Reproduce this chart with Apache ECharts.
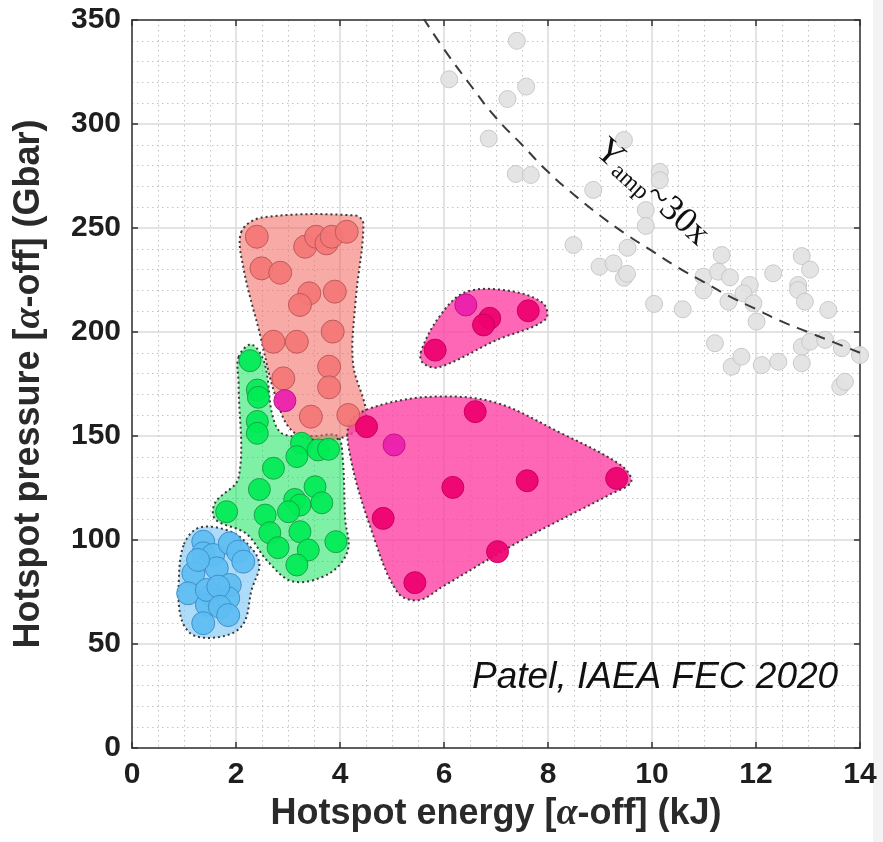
<!DOCTYPE html>
<html>
<head>
<meta charset="utf-8">
<script src="https://cdn.jsdelivr.net/npm/echarts@6/dist/echarts.min.js"></script>
<style>
  html, body { margin: 0; padding: 0; background: #fff; }
  #main { width: 883px; height: 842px; }
</style>
</head>
<body>
<div id="main"></div>
<script>
// points, [energy kJ, pressure Gbar]
var grayPts = [[7.40,340],[6.10,321.5],[7.58,318],[7.22,312],[6.86,293],[7.38,276],[7.67,275.5],[9.46,292.3],
  [10.15,277],[10.15,273],[8.87,268.3],[9.88,258.6],[9.88,251],[8.49,241.8],[9.53,240.5],[8.99,231.4],[9.26,233],
  [9.46,226.1],[9.52,228],[10.04,213.5],[10.59,210.9],[11.34,237],[10.99,226.6],[11.27,229],[11.5,226.3],[10.99,220],
  [11.47,214.6],[11.88,222.6],[11.76,218.6],[11.95,213.8],[12.01,205],[12.33,228.2],[12.88,236.5],[13.04,230],
  [12.81,222.6],[12.81,220.2],[12.94,214.6],[13.39,210.6],[11.21,194.6],[11.53,183.3],[11.72,188.1],[12.11,184.1],
  [12.43,185.7],[12.88,192.9],[13.04,195.3],[12.88,185],[13.33,196.2],[13.65,192.2],[14.0,188.9],[13.62,173.7],[13.71,176.1]];
var bluePts = [[1.37,99.2],[1.37,93.6],[1.56,92.8],[1.88,98.4],[2.04,94.4],[2.14,89.6],[1.63,86.4],[1.18,84],
  [1.27,90.4],[1.08,74.4],[1.53,73.6],[1.88,78.4],[1.85,72],[1.44,68.8],[1.44,76],[1.66,77.6],[1.69,67.9],[1.85,63.9],[1.37,60]];
var greenPts = [[2.27,186.2],[2.41,172.1],[2.43,168.6],[2.41,157],[2.41,151.3],[3.26,146.5],[3.58,143.3],[3.78,143.6],
  [3.17,140.1],[2.72,134.5],[2.45,124.3],[3.52,125.6],[3.65,117.9],[3.13,119.5],[3.23,116.8],[1.82,113.6],[2.56,112],
  [3.01,113.6],[2.65,103.5],[3.23,104],[3.92,99.2],[2.81,96.3],[3.39,95.2],[3.17,88]];
var redPts = [[2.40,245.8],[3.33,241],[3.54,245.8],[3.74,242.6],[3.84,245.8],[4.13,248.2],[2.49,230.6],[2.85,228.5],
  [3.41,218.6],[3.23,213],[3.90,219.4],[3.86,200.2],[2.72,195.3],[3.17,195.3],[3.79,183.3],[2.91,177.7],[3.79,173.4],
  [3.44,159.3],[4.16,160.1]];
var magentaPts = [[6.88,206.6],[6.76,203.4],[7.62,210.2],[5.83,191.3],[6.60,161.7],[4.51,154.5],[6.17,125.3],
  [7.60,128.5],[9.32,129.6],[4.83,110.4],[7.03,94.4],[5.44,79.5]];
var lightMagentaPts = [[6.42,213],[5.04,145.7],[2.94,167]];

// hull outlines
var blueHull = [[1.0,98],[1.3,106],[1.9,104],[2.3,96],[2.45,88],[2.3,76],[2.15,60],[1.8,54],[1.2,54],[0.95,62],[0.9,80]];
var greenHull = [[2.05,188],[2.3,194],[2.55,185],[2.7,160],[2.9,151],[3.5,150],[3.95,150],[4.05,140],[4.1,110],
  [4.15,95],[3.8,84],[3.1,80],[2.6,90],[2.2,103],[1.6,110],[1.6,118],[2.05,130],[2.05,175]];
var redHull = [[2.1,248],[2.5,255],[4.3,256],[4.45,252],[4.3,215],[4.25,185],[4.5,162],[4.4,154],[3.8,148],
  [3.1,152],[2.75,170],[2.45,200],[2.15,230]];
var pinkHullBig = [[4.2,157],[4.8,165],[5.9,169],[7.0,166],[8.2,152],[9.4,136],[9.6,128],[9.2,122],[7.5,100],
  [6.0,78],[5.5,71],[5.1,75],[4.6,105],[4.2,140]];
var pinkHullSmall = [[5.55,190],[5.9,207],[6.4,219],[7.2,220],[7.9,214],[7.95,206],[7.0,196],[5.9,183],[5.6,185]];

// Y_amp ~ 30x dashed curve
var ampCurve = [[5.6,351],[6,336],[6.5,319],[7,303],[7.5,290],[8,277],[8.5,266],[9,256],[9.5,247],[10,239],
  [10.5,231],[11,224],[11.5,217],[12,211],[12.5,205],[13,200],[13.5,195],[14,190]];

var xTicks = [0, 14, 2];
var yTicks = [0, 350, 50];

var chartDom = document.getElementById('main');
var myChart = echarts.init(chartDom);

function hullSeries(pts, fill) {
  return {
    type: 'custom',
    silent: true,
    z: 1,
    data: pts,
    renderItem: function (params, api) {
      if (params.dataIndex !== 0) return;
      var p = pts.map(function (d) { return api.coord(d); });
      return {
        type: 'polygon',
        shape: { points: p, smooth: 0.35 },
        style: { fill: fill, stroke: '#3a3a3a', lineWidth: 2, lineDash: [2, 3] }
      };
    }
  };
}

function dotSeries(pts, size, fill, border, z) {
  return {
    type: 'scatter',
    data: pts,
    symbolSize: size,
    z: z,
    itemStyle: { color: fill, borderColor: border, borderWidth: 1, opacity: 0.92 }
  };
}

var tickFont = { fontFamily: 'Liberation Sans', fontWeight: 'bold', fontSize: 30, color: '#1e1e1e' };
var titleFont = {
  fontFamily: 'Liberation Sans', fontWeight: 'bold', fontSize: 36, color: '#2a2a2a',
  rich: { a: { fontFamily: 'Liberation Serif', fontStyle: 'italic', fontSize: 38, color: '#2a2a2a' } }
};

var option = {
  backgroundColor: '#fff',
  animation: false,
  grid: { left: 132, right: 23, top: 20, bottom: 94 },
  xAxis: [{
    type: 'value', min: xTicks[0], max: xTicks[1], interval: xTicks[2],
    name: 'Hotspot energy [{a|α}-off] (kJ)', nameLocation: 'middle', nameGap: 42,
    nameTextStyle: titleFont,
    axisLine: { show: true, onZero: false, lineStyle: { color: '#333', width: 1.5 } },
    axisTick: { show: true, inside: true, length: 6, lineStyle: { color: '#333', width: 1.5 } },
    axisLabel: Object.assign({ margin: 12 }, tickFont),
    splitLine: { show: true, lineStyle: { color: '#dadada', width: 1.5 } },
    minorTick: { show: false, splitNumber: 4 },
    minorSplitLine: { show: true, lineStyle: { color: '#c4c4c4', width: 1, type: [1.5, 3.5] } }
  }, {
    type: 'value', position: 'top', min: xTicks[0], max: xTicks[1], interval: xTicks[2],
    axisLine: { show: true, onZero: false, lineStyle: { color: '#333', width: 1.5 } },
    axisTick: { show: true, inside: true, length: 6, lineStyle: { color: '#333', width: 1.5 } },
    axisLabel: { show: false }, splitLine: { show: false }
  }],
  yAxis: [{
    type: 'value', min: yTicks[0], max: yTicks[1], interval: yTicks[2],
    name: 'Hotspot pressure [{a|α}-off] (Gbar)', nameLocation: 'middle', nameGap: 84, nameRotate: 90,
    nameTextStyle: titleFont,
    axisLine: { show: true, onZero: false, lineStyle: { color: '#333', width: 1.5 } },
    axisTick: { show: true, inside: true, length: 6, lineStyle: { color: '#333', width: 1.5 } },
    axisLabel: Object.assign({ margin: 11 }, tickFont),
    splitLine: { show: true, lineStyle: { color: '#dadada', width: 1.5 } },
    minorTick: { show: false, splitNumber: 5 },
    minorSplitLine: { show: true, lineStyle: { color: '#c4c4c4', width: 1, type: [1.5, 3.5] } }
  }, {
    type: 'value', position: 'right', min: yTicks[0], max: yTicks[1], interval: yTicks[2],
    axisLine: { show: true, onZero: false, lineStyle: { color: '#333', width: 1.5 } },
    axisTick: { show: true, inside: true, length: 6, lineStyle: { color: '#333', width: 1.5 } },
    axisLabel: { show: false }, splitLine: { show: false }
  }],
  series: [
    hullSeries(blueHull, 'rgba(130,202,245,0.65)'),
    hullSeries(greenHull, 'rgba(0,228,80,0.5)'),
    hullSeries(redHull, 'rgba(242,100,95,0.55)'),
    hullSeries(pinkHullSmall, 'rgba(254,60,160,0.78)'),
    hullSeries(pinkHullBig, 'rgba(254,60,160,0.78)'),
    dotSeries(grayPts, 17, '#e2e2e2', '#c6c6c6', 3),
    dotSeries(bluePts, 23, '#5dbdf2', '#3c8cc4', 3),
    dotSeries(greenPts, 22, '#00ec55', '#1b9a44', 3),
    dotSeries(redPts, 23, '#f47676', '#b95757', 3),
    dotSeries(magentaPts, 22, '#ee006f', '#c2005a', 4),
    dotSeries(lightMagentaPts, 22, '#ea1eac', '#b8108a', 4),
    {
      type: 'line',
      data: ampCurve,
      smooth: true,
      showSymbol: false,
      z: 5,
      lineStyle: { color: '#3a3a3a', width: 2, type: [11, 8] }
    }
  ]
};

myChart.setOption(option);

// annotations placed via the axes
var ampPos = myChart.convertToPixel({ gridIndex: 0 }, [10.0, 267]);
var citePos = myChart.convertToPixel({ gridIndex: 0 }, [13.58, 34]);
myChart.setOption({
  graphic: [{
    type: 'text',
    x: ampPos[0], y: ampPos[1],
    rotation: -0.733,
    z: 10,
    style: {
      text: '{m|Y}{s|amp}{m|~30x}',
      align: 'center', verticalAlign: 'middle',
      rich: {
        m: { fontFamily: 'Liberation Serif', fontSize: 36, fill: '#111' },
        s: { fontFamily: 'Liberation Serif', fontSize: 24, fill: '#111', verticalAlign: 'bottom', padding: [14, 0, 0, 0] }
      }
    }
  }, {
    type: 'text',
    x: citePos[0], y: citePos[1],
    z: 10,
    style: {
      text: 'Patel, IAEA FEC 2020',
      align: 'right', verticalAlign: 'middle',
      fontFamily: 'Liberation Sans', fontStyle: 'italic', fontSize: 37, fill: '#111'
    }
  }, {
    type: 'rect',
    shape: { x: 873, y: 0, width: 10, height: 842 },
    style: { fill: '#f3f3f3' },
    z: -1
  }]
});

window.addEventListener('resize', function () {
  myChart.resize();
});
</script>
</body>
</html>
